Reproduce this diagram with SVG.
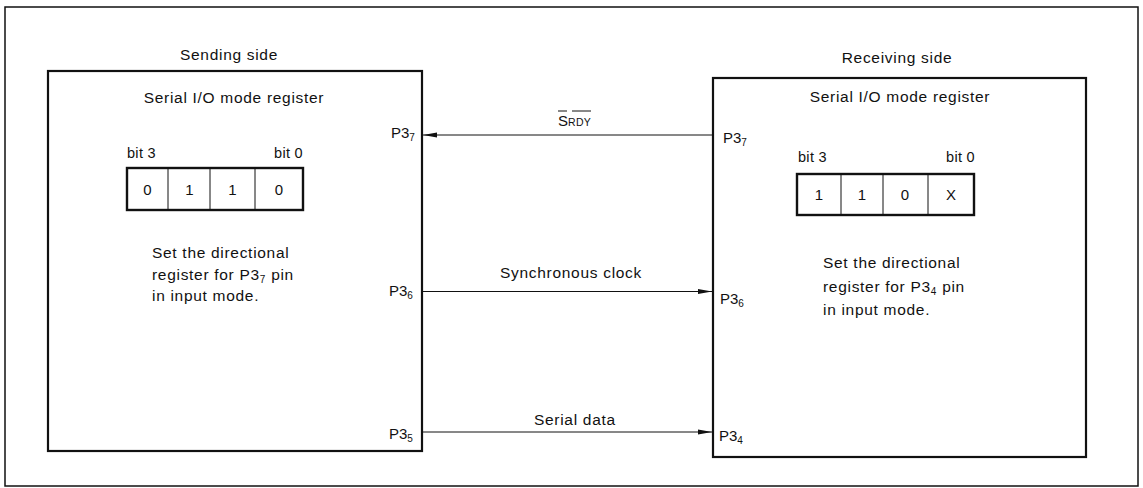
<svg xmlns="http://www.w3.org/2000/svg" width="1143" height="488" viewBox="0 0 1143 488">
  <style>
    text { font-family: "Liberation Sans", Arial, sans-serif; fill: #111; }
    .t { font-size: 15.5px; letter-spacing: 0.7px; }
    .b { font-size: 14.5px; letter-spacing: 0.3px; }
    .d { font-size: 15px; text-anchor: middle; }
    .p { font-size: 15px; }
    .box { fill: none; stroke: #111; stroke-width: 2.2; }
    .frame { fill: none; stroke: #111; stroke-width: 1.5; }
    .reg { fill: none; stroke: #111; stroke-width: 2.4; }
    .div { stroke: #111; stroke-width: 1; }
    .wire { stroke: #111; stroke-width: 1; fill: none; }
  </style>
  <defs>
    <marker id="ah" markerUnits="userSpaceOnUse" markerWidth="14" markerHeight="6" refX="14" refY="3" orient="auto">
      <path d="M0,0.6 L14,3 L0,5.4 z" fill="#111"/>
    </marker>
  </defs>
  <rect width="1143" height="488" fill="#fff"/>
  <rect id="frame" class="frame" x="5" y="7" width="1133" height="479"/>

  <g id="sending">
    <text class="t" x="229" y="60" text-anchor="middle">Sending side</text>
    <rect class="box" x="48" y="71" width="374" height="380"/>
    <text class="t" x="234" y="103" text-anchor="middle">Serial I/O mode register</text>
    <text class="b" x="127" y="158">bit 3</text>
    <text class="b" x="303" y="158" text-anchor="end">bit 0</text>
    <g id="send-reg">
      <rect class="reg" x="127" y="168" width="176" height="42"/>
      <line class="div" x1="168" y1="168" x2="168" y2="210"/>
      <line class="div" x1="210" y1="168" x2="210" y2="210"/>
      <line class="div" x1="255" y1="168" x2="255" y2="210"/>
      <text class="d" x="147.5" y="195">0</text>
      <text class="d" x="189.5" y="195">1</text>
      <text class="d" x="232.5" y="195">1</text>
      <text class="d" x="279" y="195">0</text>
    </g>
    <text class="t" x="152" y="258">Set the directional</text>
    <text class="t" x="152" y="280">register for P3<tspan font-size="10" dy="3">7</tspan><tspan dy="-3"> pin</tspan></text>
    <text class="t" x="152" y="301">in input mode.</text>
    <text class="p" x="391" y="138">P3<tspan font-size="10" dy="3">7</tspan></text>
    <text class="p" x="389" y="296">P3<tspan font-size="10" dy="3">6</tspan></text>
    <text class="p" x="389" y="439">P3<tspan font-size="10" dy="3">5</tspan></text>
  </g>

  <g id="receiving">
    <text class="t" x="897" y="63" text-anchor="middle">Receiving side</text>
    <rect class="box" x="713" y="78" width="373" height="379"/>
    <text class="t" x="900" y="102" text-anchor="middle">Serial I/O mode register</text>
    <text class="b" x="798" y="162">bit 3</text>
    <text class="b" x="975" y="162" text-anchor="end">bit 0</text>
    <g id="recv-reg">
      <rect class="reg" x="797" y="174" width="177" height="41"/>
      <line class="div" x1="841" y1="174" x2="841" y2="215"/>
      <line class="div" x1="883" y1="174" x2="883" y2="215"/>
      <line class="div" x1="928" y1="174" x2="928" y2="215"/>
      <text class="d" x="819" y="200">1</text>
      <text class="d" x="862" y="200">1</text>
      <text class="d" x="905" y="200">0</text>
      <text class="d" x="951" y="200">X</text>
    </g>
    <text class="t" x="823" y="268">Set the directional</text>
    <text class="t" x="823" y="292">register for P3<tspan font-size="10" dy="3">4</tspan><tspan dy="-3"> pin</tspan></text>
    <text class="t" x="823" y="315">in input mode.</text>
    <text class="p" x="723" y="143">P3<tspan font-size="10" dy="3">7</tspan></text>
    <text class="p" x="720" y="304">P3<tspan font-size="10" dy="3">6</tspan></text>
    <text class="p" x="719" y="441">P3<tspan font-size="10" dy="3">4</tspan></text>
  </g>

  <g id="connectors">
    <line class="wire" x1="713" y1="135" x2="423" y2="135" marker-end="url(#ah)"/>
    <line class="wire" x1="422" y1="291.5" x2="712" y2="291.5" marker-end="url(#ah)"/>
    <line class="wire" x1="422" y1="432" x2="712" y2="432" marker-end="url(#ah)"/>
    <text class="p" x="558" y="126">S<tspan font-size="10.5" letter-spacing="0.3">RDY</tspan></text>
    <line class="div" x1="558" y1="111" x2="567" y2="111"/>
    <line class="div" x1="572" y1="111" x2="591" y2="111"/>
    <text class="t" x="500" y="278">Synchronous clock</text>
    <text class="t" x="534" y="425">Serial data</text>
  </g>
</svg>
